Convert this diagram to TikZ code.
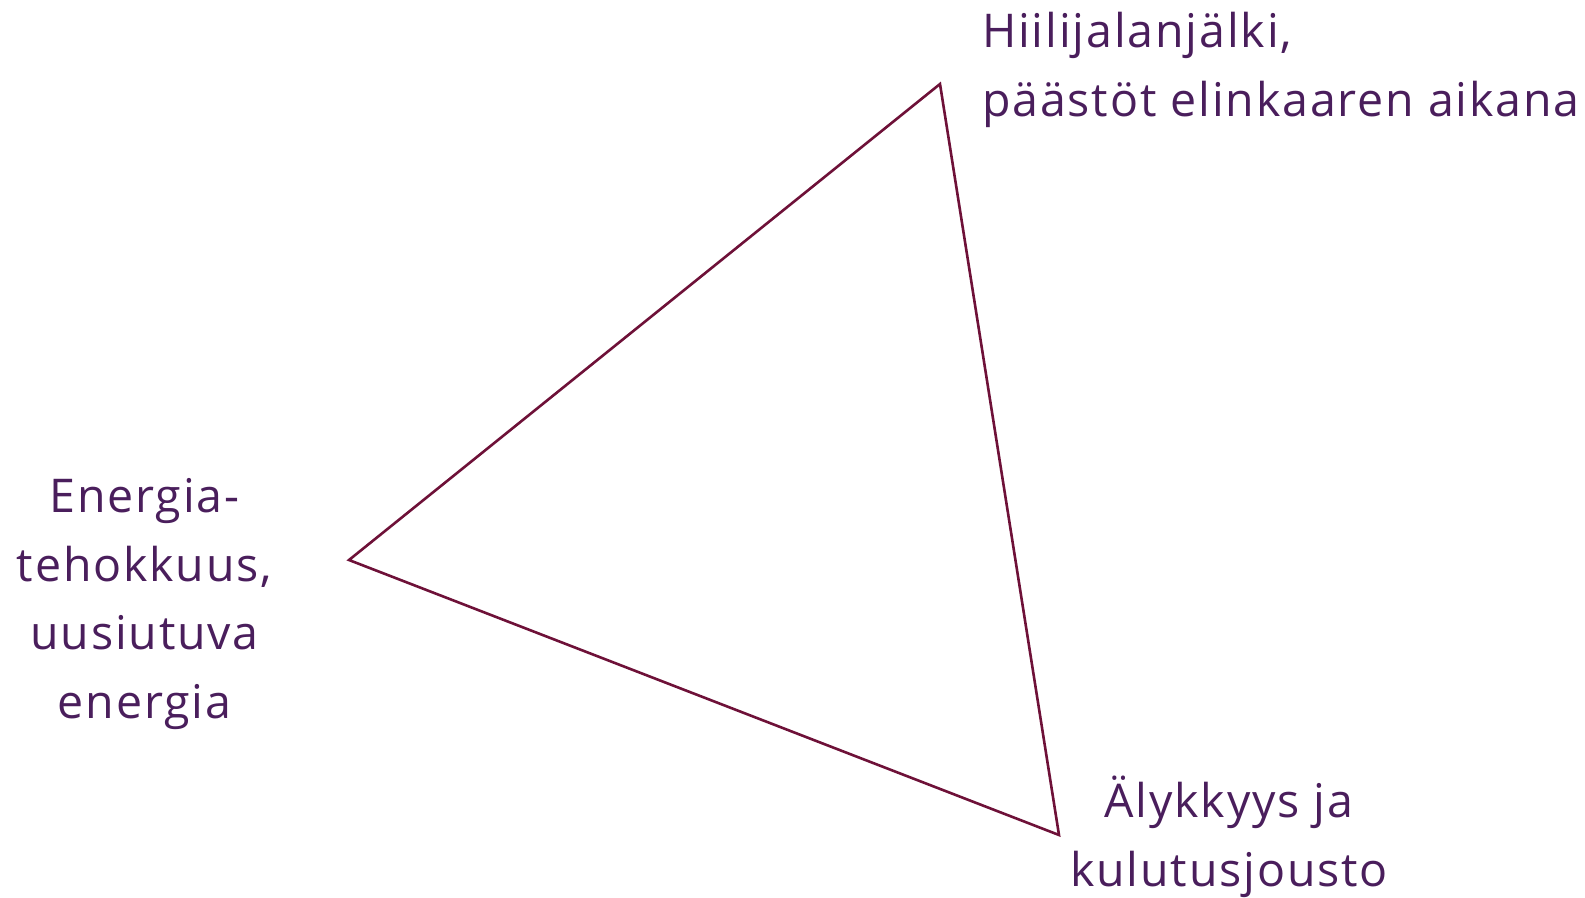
\documentclass[tikz,border=0pt]{standalone}
\usepackage{fontspec}
\setmainfont[LetterSpace=4]{Open Sans}
\definecolor{txt}{HTML}{4A1E5C}
\definecolor{edge}{HTML}{6E1138}
\begin{document}
\begin{tikzpicture}[x=1pt,y=-1pt,
  lbl/.style={text=txt, inner sep=0, font=\fontsize{46.5}{68.5}\selectfont},
  tri/.style={draw=edge, line width=2.6pt, line join=miter}]
\useasboundingbox (0,0) rectangle (1585,897);
\coordinate (top) at (940,84);
\coordinate (left) at (349,560);
\coordinate (br) at (1059,835);
\draw[tri] (top) -- (br) -- (left) -- cycle;
\node[lbl, anchor=base west, align=left] (hiili) at (982,116) {Hiilijalanjälki,\\päästöt elinkaaren aikana};
\node[lbl, anchor=base, align=center] (energia) at (144.5,718) {Energia-\\tehokkuus,\\uusiutuva\\energia};
\node[lbl, anchor=base, align=center] (aly) at (1229,886) {Älykkyys ja\\kulutusjousto};
\end{tikzpicture}
\end{document}
